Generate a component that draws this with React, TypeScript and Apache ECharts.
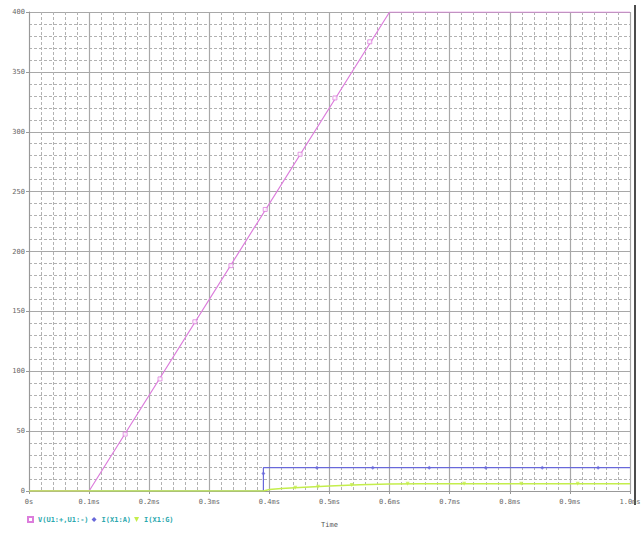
import React, { useEffect, useRef } from "react";
import * as echarts from "echarts";

// Time in ms, values in V / A
const vTrace: [number, number][] = [[0, 0], [0.1, 0], [0.6, 400], [1.0, 400]];
const iaTrace: [number, number][] = [[0, 0], [0.39, 0], [0.39, 19.5], [1.0, 19.5]];
const igTrace: [number, number][] = [
  [0, 0], [0.39, 0], [0.4, 1.2], [0.42, 2], [0.45, 3], [0.5, 4.2], [0.55, 5.2], [0.6, 5.8], [0.65, 6], [1.0, 6],
];
const vMarkers: [number, number][] = [
  [0.16, 47.5], [0.218, 93.6], [0.276, 141.3], [0.336, 188.2], [0.393, 235.1], [0.451, 281.2], [0.509, 328.2], [0.567, 375.1],
];
const iaMarkers: [number, number][] = [
  [0.39, 14.6], [0.479, 19.5], [0.572, 19.5], [0.666, 19.5], [0.76, 19.5], [0.854, 19.5], [0.947, 19.5],
];
const igMarkers: [number, number][] = [
  [0.443, 2.8], [0.481, 3.6], [0.537, 5], [0.63, 6], [0.724, 6], [0.819, 6], [0.913, 6],
];
const seriesNames = ["V(U1:+,U1:-)", "I(X1:A)", "I(X1:G)"];
const colors = ["#dc7ddc", "#6868da", "#c4ee4c"];

const FONT = "DejaVu Sans Mono";

export default function App() {
  const ref = useRef<HTMLDivElement>(null);
  useEffect(() => {
    if (!ref.current) return;
    const chart = echarts.init(ref.current, null, { renderer: "svg" });
    const majorLine = { show: true, lineStyle: { color: "#a8a8a8", width: 1.2 } };
    const minorLine = { show: true, lineStyle: { color: "#b2b2b2", width: 1, type: [3, 2] as any } };
    chart.setOption({
      animation: false,
      backgroundColor: "#ffffff",
      grid: { left: 29, right: 14, top: 12, bottom: 34, containLabel: false },
      legend: {
        left: 27,
        top: 516,
        itemWidth: 5,
        itemHeight: 5,
        itemGap: 3,
        padding: 0,
        textStyle: { fontFamily: FONT, fontSize: 7, color: "#2aa8ae", fontWeight: "bold" },
        data: [
          { name: seriesNames[0], icon: "emptyRect" },
          { name: seriesNames[1], icon: "diamond" },
          { name: seriesNames[2], icon: "path://M0,0L10,0L5,10Z" },
        ],
      },
      xAxis: {
        type: "value",
        min: 0,
        max: 1.0,
        interval: 0.1,
        name: "Time",
        nameLocation: "middle",
        nameGap: 30,
        nameTextStyle: { fontFamily: FONT, fontSize: 7, color: "#555555" },
        axisLine: { show: true, lineStyle: { color: "#999999", width: 1 } },
        axisTick: { show: true, length: 3, lineStyle: { color: "#999999" } },
        axisLabel: {
          fontFamily: FONT,
          fontSize: 7,
          color: "#666666",
          margin: 7,
          formatter: (v: number) => (v === 0 ? "0s" : v.toFixed(1) + "ms"),
        },
        splitLine: majorLine,
        minorTick: { show: false, splitNumber: 5 },
        minorSplitLine: minorLine,
      },
      yAxis: {
        type: "value",
        min: 0,
        max: 400,
        interval: 50,
        axisLine: { show: true, lineStyle: { color: "#999999", width: 1 } },
        axisTick: { show: true, length: 3, lineStyle: { color: "#999999" } },
        axisLabel: { fontFamily: FONT, fontSize: 7, color: "#666666", margin: 4 },
        splitLine: majorLine,
        minorTick: { show: false, splitNumber: 5 },
        minorSplitLine: minorLine,
      },
      graphic: [
        { type: "line", shape: { x1: 635, y1: 5, x2: 635, y2: 505 }, style: { stroke: "#111111", lineWidth: 1.5 } },
      ],
      series: [
        {
          name: seriesNames[1], type: "line", data: iaTrace, symbol: "none",
          lineStyle: { color: colors[1], width: 1.2 }, itemStyle: { color: colors[1] }, z: 3,
        },
        {
          name: seriesNames[0], type: "line", data: vTrace, symbol: "none",
          lineStyle: { color: colors[0], width: 1.2 }, itemStyle: { color: colors[0] }, z: 3,
        },
        {
          name: seriesNames[2], type: "line", data: igTrace, symbol: "none",
          lineStyle: { color: colors[2], width: 1.5 }, itemStyle: { color: colors[2] }, z: 4,
        },
        {
          name: "vm", type: "scatter", data: vMarkers, symbol: "rect", symbolSize: 4,
          itemStyle: { color: "#ffffff", borderColor: colors[0], borderWidth: 1 }, z: 5,
        },
        {
          name: "iam", type: "scatter", data: iaMarkers, symbol: "diamond", symbolSize: 4,
          itemStyle: { color: colors[1] }, z: 5,
        },
        {
          name: "igm", type: "scatter", data: igMarkers, symbol: "triangle", symbolRotate: 180, symbolSize: 4,
          itemStyle: { color: colors[2] }, z: 5,
        },
      ],
    });
    return () => chart.dispose();
  }, []);
  return (
    <div
      ref={ref}
      style={{ position: "absolute", left: 0, top: 0, width: 644, height: 533, background: "#fff" }}
    />
  );
}
